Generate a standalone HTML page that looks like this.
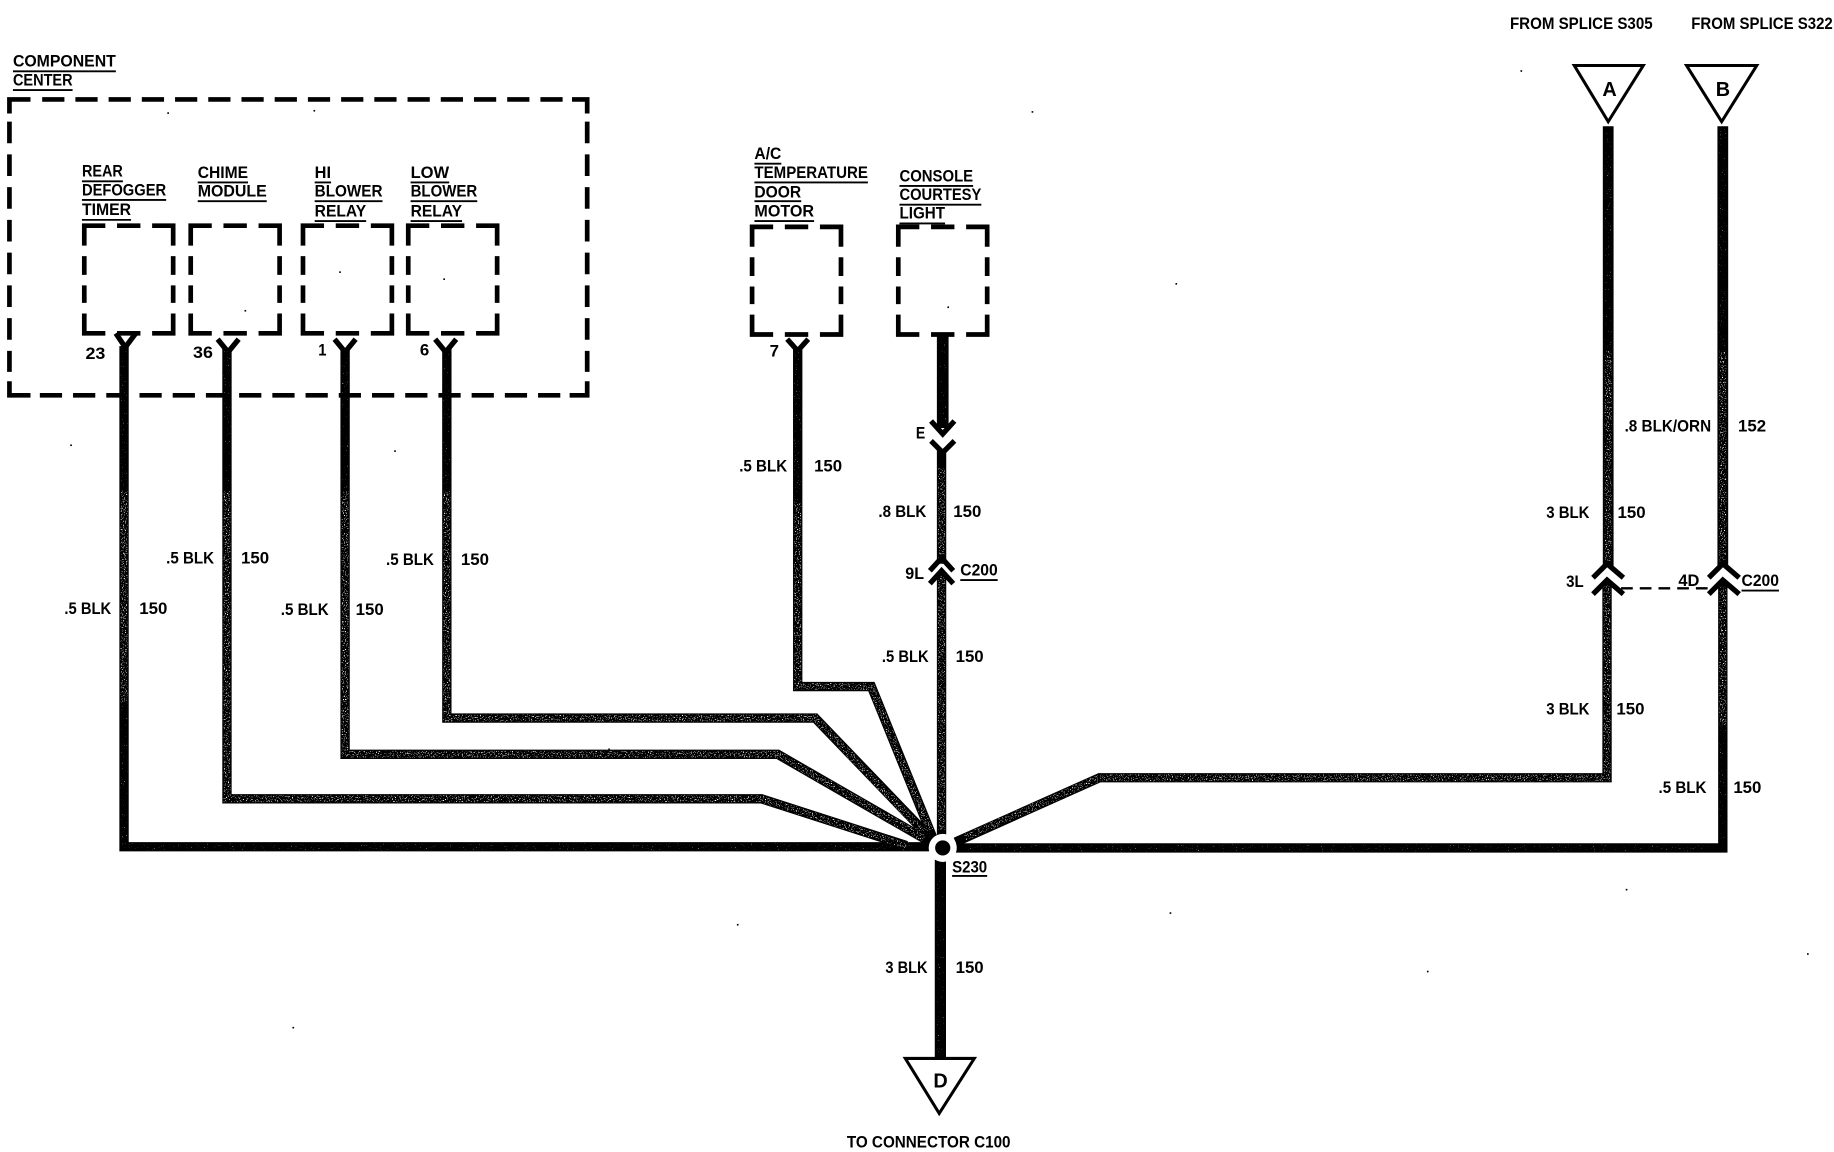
<!DOCTYPE html>
<html>
<head>
<meta charset="utf-8">
<style>
html,body{margin:0;padding:0;background:#fff;width:1834px;height:1152px;overflow:hidden}
svg{display:block}
text{font-family:"Liberation Sans",sans-serif;font-weight:700;font-size:14px;fill:#000}
.w{fill:none;stroke:#000;stroke-width:8;stroke-linejoin:miter}
.s{fill:none;stroke:#fff;stroke-width:6}
.d{fill:none;stroke:#000;stroke-width:4}
.c{fill:none;stroke:#000;stroke-width:4.5}
.u{stroke:#000;stroke-width:1.6}
.t{fill:#fff;stroke:#000;stroke-width:2.6}
</style>
</head>
<body>
<svg width="1834" height="1152" viewBox="0 0 1568 985" xmlns="http://www.w3.org/2000/svg">
<defs>
<filter id="n1" x="0" y="0" width="1568" height="985" filterUnits="userSpaceOnUse" color-interpolation-filters="sRGB">
<feTurbulence type="fractalNoise" baseFrequency="1.1" numOctaves="1" seed="3"/>
<feColorMatrix type="matrix" values="0 0 0 0 1  0 0 0 0 1  0 0 0 0 1  0 0 0 12 -7.2"/>
<feComposite in2="SourceGraphic" operator="in"/>
</filter>
<filter id="n2" x="0" y="0" width="1568" height="985" filterUnits="userSpaceOnUse" color-interpolation-filters="sRGB">
<feTurbulence type="fractalNoise" baseFrequency="1.1" numOctaves="1" seed="8"/>
<feColorMatrix type="matrix" values="0 0 0 0 1  0 0 0 0 1  0 0 0 0 1  0 0 0 12 -8.4"/>
<feComposite in2="SourceGraphic" operator="in"/>
</filter>
<g id="bx">
<path class="d" d="M0 17V0H18M58 0H76V17M0 75V92H18M58 92H76V75"/>
<path class="d" d="M28 0H48M28 92H48M0 26V42M0 51V66M76 26V42M76 51V66"/>
</g>
</defs>

<!-- outer dashed box -->
<path class="d" d="M8 97V85H26M489 85H502V97M8 326V338H26M487 338H502V326"/>
<path class="d" stroke-dasharray="19 9.4" d="M36 85H481M34 338H480"/>
<path class="d" stroke-dasharray="18.5 9.5" d="M8 104V318M502 104V318"/>

<!-- sub boxes -->
<use href="#bx" x="72" y="193"/>
<use href="#bx" x="163" y="193"/>
<use href="#bx" x="259" y="193"/>
<use href="#bx" x="349" y="193"/>
<use href="#bx" x="643" y="194"/>
<use href="#bx" x="768" y="194"/>

<!-- pins -->
<path class="c" d="M99 285L107 297L116 285M186 290L195 301L204 290M286 290L295 301L304 290M372 290L381 301L390 290M673 290L682 300L691 290"/>

<!-- wires -->
<path class="w" d="M106 296V724H795"/>
<path class="w" d="M194 298V683H651L775 723"/>
<path class="w" d="M295 298V645H665L797 721"/>
<path class="w" d="M382 298V614H697L798 719"/>
<path class="w" d="M682 298V587H745L799 720"/>
<path class="w" style="stroke-width:10" d="M806 286V366"/>
<path class="w" d="M805 384V482"/>
<path class="w" d="M805 490V714"/>
<path class="w" d="M815 725H1473V497"/>
<path class="w" style="stroke-width:9.2" d="M1375 108V484"/>
<path class="w" style="stroke-width:9.2" d="M1473 108V484"/>
<path class="w" d="M1374 497V665H940L817 720"/>
<path class="w" style="stroke-width:9.6" d="M804 735V907"/>

<!-- speckle -->
<g filter="url(#n1)">
<path class="s" d="M194 420V683H651L775 723M295 420V645H665L790 717M382 420V614H697L790 712M682 430V587H745L795 710"/>
<path class="s" d="M106 420V600M805 400V480M805 492V710M1473 300V480M1375 300V480M1473 500V620M1374 500V665H940"/>
<path class="s" d="M940 665L825 716"/>
</g>
<g filter="url(#n2)">
<path class="s" d="M106 300V420V724H780M194 300V420M295 300V420M382 300V420M682 300V430M825 725H1465M1473 110V300M1375 110V300M1473 620V720M806 290V360M804 740V900"/>
</g>

<!-- splice -->
<circle cx="806" cy="725" r="12" fill="#fff"/>
<circle cx="806" cy="725" r="6.5" fill="#000"/>

<!-- connector chevrons -->
<path class="c" d="M796 360L806 371L816 360M796 377L806 387L816 377"/>
<path class="c" d="M795 488L805 477L815 488M795 499L805 488L815 499"/>
<path class="c" d="M1362 494L1374 482L1388 494M1362 508L1374 496L1388 508"/>
<path class="c" d="M1461 494L1473 482L1487 494M1461 508L1473 496L1487 508"/>
<path fill="none" stroke="#000" stroke-width="2" stroke-dasharray="10 6" d="M1386 503H1460"/>

<!-- triangles -->
<path class="t" d="M1346 56H1405L1375 104Z"/>
<path class="t" d="M1442 56H1502L1472 104Z"/>
<path class="t" d="M774 905H833L803 952Z"/>
<text x="1370" y="82" style="font-size:17px">A</text>
<text x="1467" y="82" style="font-size:17px">B</text>
<text x="798" y="930" style="font-size:17px">D</text>

<!-- titles -->
<text x="11" y="57" textLength="88" lengthAdjust="spacingAndGlyphs">COMPONENT</text><line class="u" x1="11" x2="99" y1="61" y2="61"/>
<text x="11" y="73" textLength="51" lengthAdjust="spacingAndGlyphs">CENTER</text><line class="u" x1="11" x2="62" y1="77" y2="77"/>

<text x="70" y="151" textLength="35" lengthAdjust="spacingAndGlyphs">REAR</text><line class="u" x1="70" x2="105" y1="155" y2="155"/>
<text x="70" y="167" textLength="72" lengthAdjust="spacingAndGlyphs">DEFOGGER</text><line class="u" x1="70" x2="142" y1="171" y2="171"/>
<text x="70" y="184" textLength="42" lengthAdjust="spacingAndGlyphs">TIMER</text><line class="u" x1="70" x2="112" y1="188" y2="188"/>

<text x="169" y="152" textLength="43" lengthAdjust="spacingAndGlyphs">CHIME</text><line class="u" x1="169" x2="212" y1="156" y2="156"/>
<text x="169" y="168" textLength="59" lengthAdjust="spacingAndGlyphs">MODULE</text><line class="u" x1="169" x2="228" y1="172" y2="172"/>

<text x="269" y="152" textLength="14" lengthAdjust="spacingAndGlyphs">HI</text><line class="u" x1="269" x2="283" y1="156" y2="156"/>
<text x="269" y="168" textLength="58" lengthAdjust="spacingAndGlyphs">BLOWER</text><line class="u" x1="269" x2="327" y1="172" y2="172"/>
<text x="269" y="185" textLength="44" lengthAdjust="spacingAndGlyphs">RELAY</text><line class="u" x1="269" x2="313" y1="189" y2="189"/>

<text x="351" y="152" textLength="33" lengthAdjust="spacingAndGlyphs">LOW</text><line class="u" x1="351" x2="384" y1="156" y2="156"/>
<text x="351" y="168" textLength="57" lengthAdjust="spacingAndGlyphs">BLOWER</text><line class="u" x1="351" x2="408" y1="172" y2="172"/>
<text x="351" y="185" textLength="44" lengthAdjust="spacingAndGlyphs">RELAY</text><line class="u" x1="351" x2="395" y1="189" y2="189"/>

<text x="645" y="136" textLength="23" lengthAdjust="spacingAndGlyphs">A/C</text><line class="u" x1="645" x2="668" y1="140" y2="140"/>
<text x="645" y="152" textLength="97" lengthAdjust="spacingAndGlyphs">TEMPERATURE</text><line class="u" x1="645" x2="742" y1="156" y2="156"/>
<text x="645" y="169" textLength="40" lengthAdjust="spacingAndGlyphs">DOOR</text><line class="u" x1="645" x2="685" y1="172" y2="172"/>
<text x="645" y="185" textLength="51" lengthAdjust="spacingAndGlyphs">MOTOR</text><line class="u" x1="645" x2="696" y1="189" y2="189"/>

<text x="769" y="155" textLength="63" lengthAdjust="spacingAndGlyphs">CONSOLE</text><line class="u" x1="769" x2="832" y1="159" y2="159"/>
<text x="769" y="171" textLength="70" lengthAdjust="spacingAndGlyphs">COURTESY</text><line class="u" x1="769" x2="839" y1="175" y2="175"/>
<text x="769" y="187" textLength="39" lengthAdjust="spacingAndGlyphs">LIGHT</text><line class="u" x1="769" x2="808" y1="191" y2="191"/>

<!-- pin numbers -->
<text x="73" y="307" textLength="17" lengthAdjust="spacingAndGlyphs">23</text>
<text x="165" y="306" textLength="17" lengthAdjust="spacingAndGlyphs">36</text>
<text x="272" y="304" textLength="7" lengthAdjust="spacingAndGlyphs">1</text>
<text x="359" y="304" textLength="8" lengthAdjust="spacingAndGlyphs">6</text>
<text x="658" y="305" textLength="8" lengthAdjust="spacingAndGlyphs">7</text>

<!-- wire labels -->
<text x="55" y="525" textLength="40" lengthAdjust="spacingAndGlyphs">.5 BLK</text><text x="119" y="525" textLength="24" lengthAdjust="spacingAndGlyphs">150</text>
<text x="142" y="482" textLength="41" lengthAdjust="spacingAndGlyphs">.5 BLK</text><text x="206" y="482" textLength="24" lengthAdjust="spacingAndGlyphs">150</text>
<text x="240" y="526" textLength="41" lengthAdjust="spacingAndGlyphs">.5 BLK</text><text x="304" y="526" textLength="24" lengthAdjust="spacingAndGlyphs">150</text>
<text x="330" y="483" textLength="41" lengthAdjust="spacingAndGlyphs">.5 BLK</text><text x="394" y="483" textLength="24" lengthAdjust="spacingAndGlyphs">150</text>
<text x="632" y="403" textLength="41" lengthAdjust="spacingAndGlyphs">.5 BLK</text><text x="696" y="403" textLength="24" lengthAdjust="spacingAndGlyphs">150</text>
<text x="783" y="375" textLength="8" lengthAdjust="spacingAndGlyphs">E</text>
<text x="751" y="442" textLength="41" lengthAdjust="spacingAndGlyphs">.8 BLK</text><text x="815" y="442" textLength="24" lengthAdjust="spacingAndGlyphs">150</text>
<text x="774" y="495" textLength="16" lengthAdjust="spacingAndGlyphs">9L</text>
<text x="821" y="492" textLength="32" lengthAdjust="spacingAndGlyphs">C200</text><line class="u" x1="821" x2="853" y1="496" y2="496"/>
<text x="754" y="566" textLength="40" lengthAdjust="spacingAndGlyphs">.5 BLK</text><text x="817" y="566" textLength="24" lengthAdjust="spacingAndGlyphs">150</text>
<text x="814" y="746" textLength="30" lengthAdjust="spacingAndGlyphs">S230</text><line class="u" x1="814" x2="844" y1="749" y2="749"/>
<text x="757" y="832" textLength="36" lengthAdjust="spacingAndGlyphs">3 BLK</text><text x="817" y="832" textLength="24" lengthAdjust="spacingAndGlyphs">150</text>
<text x="724" y="981" textLength="140" lengthAdjust="spacingAndGlyphs">TO CONNECTOR C100</text>

<text x="1291" y="25" textLength="122" lengthAdjust="spacingAndGlyphs">FROM SPLICE S305</text>
<text x="1446" y="25" textLength="121" lengthAdjust="spacingAndGlyphs">FROM SPLICE S322</text>
<text x="1389" y="369" textLength="74" lengthAdjust="spacingAndGlyphs">.8 BLK/ORN</text><text x="1486" y="369" textLength="24" lengthAdjust="spacingAndGlyphs">152</text>
<text x="1322" y="443" textLength="37" lengthAdjust="spacingAndGlyphs">3 BLK</text><text x="1383" y="443" textLength="24" lengthAdjust="spacingAndGlyphs">150</text>
<text x="1339" y="502" textLength="15" lengthAdjust="spacingAndGlyphs">3L</text>
<text x="1435" y="501" textLength="18" lengthAdjust="spacingAndGlyphs">4D</text>
<text x="1489" y="501" textLength="32" lengthAdjust="spacingAndGlyphs">C200</text><line class="u" x1="1489" x2="1521" y1="505" y2="505"/>
<text x="1322" y="611" textLength="37" lengthAdjust="spacingAndGlyphs">3 BLK</text><text x="1382" y="611" textLength="24" lengthAdjust="spacingAndGlyphs">150</text>
<text x="1418" y="678" textLength="41" lengthAdjust="spacingAndGlyphs">.5 BLK</text><text x="1482" y="678" textLength="24" lengthAdjust="spacingAndGlyphs">150</text>

<!-- scan specks -->
<g fill="#000">
<rect x="882" y="95" width="1.4" height="1.4"/><rect x="1005" y="242" width="1.4" height="1.4"/><rect x="143" y="96" width="1.4" height="1.4"/><rect x="268" y="94" width="1.4" height="1.4"/>
<rect x="290" y="232" width="1.4" height="1.4"/><rect x="209" y="265" width="1.4" height="1.4"/><rect x="379" y="238" width="1.4" height="1.4"/><rect x="810" y="262" width="1.4" height="1.4"/>
<rect x="1300" y="60" width="1.4" height="1.4"/><rect x="630" y="790" width="1.4" height="1.4"/>
<rect x="520" y="640" width="1.4" height="1.4"/><rect x="337" y="385" width="1.4" height="1.4"/><rect x="60" y="380" width="1.4" height="1.4"/><rect x="250" y="878" width="1.4" height="1.4"/>
<rect x="1000" y="780" width="1.4" height="1.4"/><rect x="1220" y="830" width="1.4" height="1.4"/><rect x="1390" y="760" width="1.4" height="1.4"/><rect x="1545" y="815" width="1.4" height="1.4"/>
</g>
</svg>
</body>
</html>
